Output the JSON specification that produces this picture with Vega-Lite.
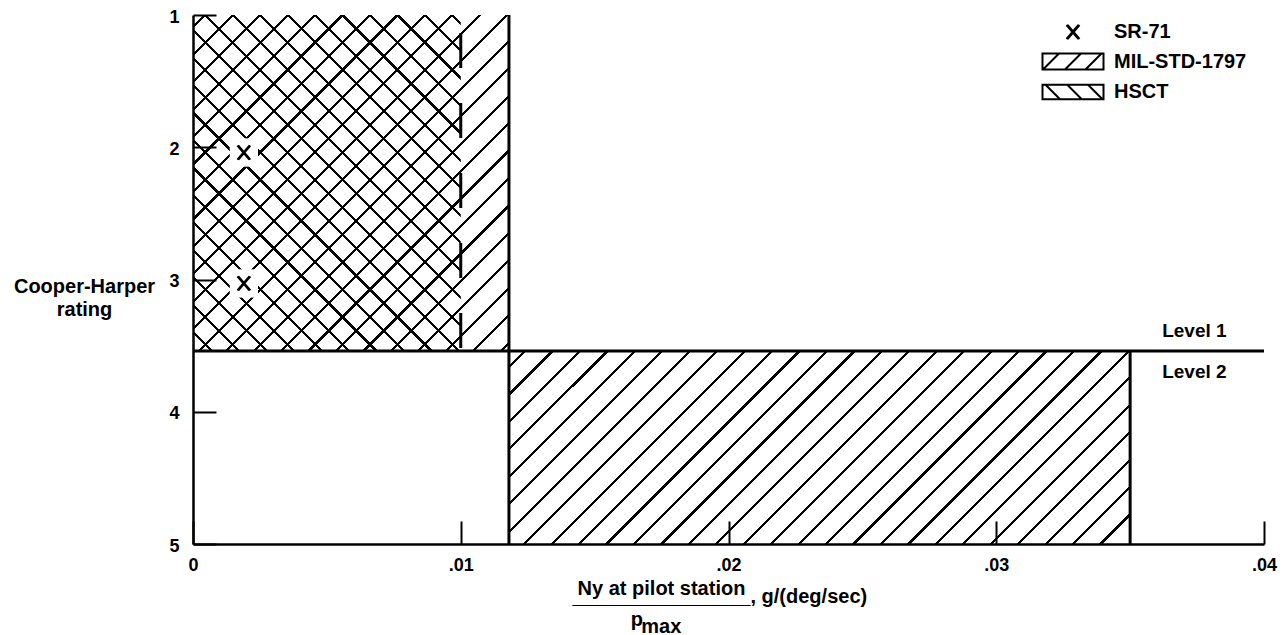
{
 "$schema": "https://vega.github.io/schema/vega-lite/v6.json",
 "width": 1071,
 "height": 529,
 "autosize": {"type": "none"},
 "padding": {"left": 193, "top": 15, "right": 19, "bottom": 91},
 "background": "white",
 "config": {"view": {"stroke": null}, "font": "Liberation Sans"},
 "datasets": {
  "regions": [
   {"region": "MIL-STD-1797 Level 1", "x": 0, "x2": 0.0118, "y": 1, "y2": 3.54},
   {"region": "MIL-STD-1797 Level 2", "x": 0.0118, "x2": 0.035, "y": 3.54, "y2": 5},
   {"region": "HSCT Level 1", "x": 0, "x2": 0.01, "y": 1, "y2": 3.54}
  ],
  "lines": [
   {"x": 0, "x2": 0.04, "y": 3.54, "y2": 3.54},
   {"x": 0.0118, "x2": 0.0118, "y": 1, "y2": 5},
   {"x": 0.035, "x2": 0.035, "y": 3.54, "y2": 5}
  ],
  "dashed": [
   {"x": 0.01, "x2": 0.01, "y": 1, "y2": 3.54}
  ],
  "sr71": [
   {"series": "SR-71", "x": 0.0019, "y": 2.04},
   {"series": "SR-71", "x": 0.0019, "y": 3.03}
  ],
  "levels": [
   {"label": "Level 1", "x": 0.0374, "y": 3.39},
   {"label": "Level 2", "x": 0.0374, "y": 3.70}
  ]
 },
 "layer": [
  {
   "data": {"name": "regions"},
   "transform": [{"filter": "datum.region === 'MIL-STD-1797 Level 1'"}],
   "mark": {"type": "rect", "strokeWidth": 0, "fill": {"gradient": "linear", "x1": 0, "y1": 0, "x2": 0.9684, "y2": 1.0297, "stops": [
    {"offset": 0.01642, "color": "rgba(0,0,0,0)"}, {"offset": 0.01642, "color": "#000"}, {"offset": 0.02133, "color": "#000"}, {"offset": 0.02133, "color": "rgba(0,0,0,0)"},
    {"offset": 0.05853, "color": "rgba(0,0,0,0)"}, {"offset": 0.05853, "color": "#000"}, {"offset": 0.06344, "color": "#000"}, {"offset": 0.06344, "color": "rgba(0,0,0,0)"},
    {"offset": 0.10064, "color": "rgba(0,0,0,0)"}, {"offset": 0.10064, "color": "#000"}, {"offset": 0.10556, "color": "#000"}, {"offset": 0.10556, "color": "rgba(0,0,0,0)"},
    {"offset": 0.14276, "color": "rgba(0,0,0,0)"}, {"offset": 0.14276, "color": "#000"}, {"offset": 0.14767, "color": "#000"}, {"offset": 0.14767, "color": "rgba(0,0,0,0)"},
    {"offset": 0.18487, "color": "rgba(0,0,0,0)"}, {"offset": 0.18487, "color": "#000"}, {"offset": 0.18978, "color": "#000"}, {"offset": 0.18978, "color": "rgba(0,0,0,0)"},
    {"offset": 0.22699, "color": "rgba(0,0,0,0)"}, {"offset": 0.22699, "color": "#000"}, {"offset": 0.23190, "color": "#000"}, {"offset": 0.23190, "color": "rgba(0,0,0,0)"},
    {"offset": 0.26910, "color": "rgba(0,0,0,0)"}, {"offset": 0.26910, "color": "#000"}, {"offset": 0.27401, "color": "#000"}, {"offset": 0.27401, "color": "rgba(0,0,0,0)"},
    {"offset": 0.31122, "color": "rgba(0,0,0,0)"}, {"offset": 0.31122, "color": "#000"}, {"offset": 0.31613, "color": "#000"}, {"offset": 0.31613, "color": "rgba(0,0,0,0)"},
    {"offset": 0.35333, "color": "rgba(0,0,0,0)"}, {"offset": 0.35333, "color": "#000"}, {"offset": 0.35824, "color": "#000"}, {"offset": 0.35824, "color": "rgba(0,0,0,0)"},
    {"offset": 0.39545, "color": "rgba(0,0,0,0)"}, {"offset": 0.39545, "color": "#000"}, {"offset": 0.40036, "color": "#000"}, {"offset": 0.40036, "color": "rgba(0,0,0,0)"},
    {"offset": 0.43756, "color": "rgba(0,0,0,0)"}, {"offset": 0.43756, "color": "#000"}, {"offset": 0.44247, "color": "#000"}, {"offset": 0.44247, "color": "rgba(0,0,0,0)"},
    {"offset": 0.47967, "color": "rgba(0,0,0,0)"}, {"offset": 0.47967, "color": "#000"}, {"offset": 0.48458, "color": "#000"}, {"offset": 0.48458, "color": "rgba(0,0,0,0)"},
    {"offset": 0.52179, "color": "rgba(0,0,0,0)"}, {"offset": 0.52179, "color": "#000"}, {"offset": 0.52670, "color": "#000"}, {"offset": 0.52670, "color": "rgba(0,0,0,0)"},
    {"offset": 0.56390, "color": "rgba(0,0,0,0)"}, {"offset": 0.56390, "color": "#000"}, {"offset": 0.56881, "color": "#000"}, {"offset": 0.56881, "color": "rgba(0,0,0,0)"},
    {"offset": 0.60601, "color": "rgba(0,0,0,0)"}, {"offset": 0.60601, "color": "#000"}, {"offset": 0.61092, "color": "#000"}, {"offset": 0.61092, "color": "rgba(0,0,0,0)"},
    {"offset": 0.64813, "color": "rgba(0,0,0,0)"}, {"offset": 0.64813, "color": "#000"}, {"offset": 0.65304, "color": "#000"}, {"offset": 0.65304, "color": "rgba(0,0,0,0)"},
    {"offset": 0.69024, "color": "rgba(0,0,0,0)"}, {"offset": 0.69024, "color": "#000"}, {"offset": 0.69515, "color": "#000"}, {"offset": 0.69515, "color": "rgba(0,0,0,0)"},
    {"offset": 0.73236, "color": "rgba(0,0,0,0)"}, {"offset": 0.73236, "color": "#000"}, {"offset": 0.73727, "color": "#000"}, {"offset": 0.73727, "color": "rgba(0,0,0,0)"},
    {"offset": 0.77447, "color": "rgba(0,0,0,0)"}, {"offset": 0.77447, "color": "#000"}, {"offset": 0.77938, "color": "#000"}, {"offset": 0.77938, "color": "rgba(0,0,0,0)"},
    {"offset": 0.81659, "color": "rgba(0,0,0,0)"}, {"offset": 0.81659, "color": "#000"}, {"offset": 0.82150, "color": "#000"}, {"offset": 0.82150, "color": "rgba(0,0,0,0)"},
    {"offset": 0.85870, "color": "rgba(0,0,0,0)"}, {"offset": 0.85870, "color": "#000"}, {"offset": 0.86361, "color": "#000"}, {"offset": 0.86361, "color": "rgba(0,0,0,0)"},
    {"offset": 0.90082, "color": "rgba(0,0,0,0)"}, {"offset": 0.90082, "color": "#000"}, {"offset": 0.90573, "color": "#000"}, {"offset": 0.90573, "color": "rgba(0,0,0,0)"},
    {"offset": 0.94293, "color": "rgba(0,0,0,0)"}, {"offset": 0.94293, "color": "#000"}, {"offset": 0.94784, "color": "#000"}, {"offset": 0.94784, "color": "rgba(0,0,0,0)"},
    {"offset": 0.98504, "color": "rgba(0,0,0,0)"}, {"offset": 0.98504, "color": "#000"}, {"offset": 0.98995, "color": "#000"}, {"offset": 0.98995, "color": "rgba(0,0,0,0)"}
   ]}},
   "encoding": {
    "x": {"field": "x", "type": "quantitative", "scale": {"domain": [0, 0.04], "nice": false, "zero": false},
     "axis": {"orient": "bottom", "values": [0, 0.01, 0.02, 0.03, 0.04], "labelExpr": "datum.value == 0 ? '0' : replace(format(datum.value, '.2f'), '0.', '.')",
      "tickSize": -23, "tickWidth": 2, "tickColor": "black", "domainWidth": 2.5, "domainColor": "black", "grid": false,
      "labelFontSize": 18, "labelFontWeight": "bold", "labelColor": "black", "labelPadding": 35, "labelFont": "Liberation Sans", "labelFlush": false, "labelOverlap": false,
      "title": "Ny at pilot station", "titleFont": "Liberation Sans", "titleFontSize": 20, "titleFontWeight": "bold", "titleColor": "black",
      "titleX": 468, "titleY": 44, "titleAlign": "center", "titleBaseline": "middle"}},
    "x2": {"field": "x2"},
    "y": {"field": "y", "type": "quantitative", "scale": {"domain": [1, 5], "reverse": true, "nice": false, "zero": false},
     "axis": {"orient": "left", "values": [1, 2, 3, 4, 5], "format": "d", "tickSize": -23, "tickWidth": 2, "tickColor": "black", "domainWidth": 2.5, "domainColor": "black", "grid": false,
      "labelFontSize": 18, "labelFontWeight": "bold", "labelColor": "black", "labelPadding": 37, "labelFont": "Liberation Sans", "labelFlush": false, "labelOffset": 2,
      "title": ["Cooper-Harper", "rating"], "titleFont": "Liberation Sans", "titleFontSize": 20, "titleFontWeight": "bold", "titleColor": "black",
      "titleAngle": 0, "titleAlign": "center", "titleBaseline": "middle", "titleX": -109, "titleY": 271.5, "titleLineHeight": 23}},
    "y2": {"field": "y2"}
   }
  },
  {
   "data": {"name": "regions"},
   "transform": [{"filter": "datum.region === 'MIL-STD-1797 Level 2'"}],
   "mark": {"type": "rect", "strokeWidth": 0, "fill": {"gradient": "linear", "x1": 0, "y1": 0, "x2": 1.1953, "y2": 0.3716, "stops": [
    {"offset": 0.01793, "color": "rgba(0,0,0,0)"}, {"offset": 0.01793, "color": "#000"}, {"offset": 0.02186, "color": "#000"}, {"offset": 0.02186, "color": "rgba(0,0,0,0)"},
    {"offset": 0.05164, "color": "rgba(0,0,0,0)"}, {"offset": 0.05164, "color": "#000"}, {"offset": 0.05557, "color": "#000"}, {"offset": 0.05557, "color": "rgba(0,0,0,0)"},
    {"offset": 0.08535, "color": "rgba(0,0,0,0)"}, {"offset": 0.08535, "color": "#000"}, {"offset": 0.08928, "color": "#000"}, {"offset": 0.08928, "color": "rgba(0,0,0,0)"},
    {"offset": 0.11906, "color": "rgba(0,0,0,0)"}, {"offset": 0.11906, "color": "#000"}, {"offset": 0.12299, "color": "#000"}, {"offset": 0.12299, "color": "rgba(0,0,0,0)"},
    {"offset": 0.15277, "color": "rgba(0,0,0,0)"}, {"offset": 0.15277, "color": "#000"}, {"offset": 0.15670, "color": "#000"}, {"offset": 0.15670, "color": "rgba(0,0,0,0)"},
    {"offset": 0.18648, "color": "rgba(0,0,0,0)"}, {"offset": 0.18648, "color": "#000"}, {"offset": 0.19041, "color": "#000"}, {"offset": 0.19041, "color": "rgba(0,0,0,0)"},
    {"offset": 0.22019, "color": "rgba(0,0,0,0)"}, {"offset": 0.22019, "color": "#000"}, {"offset": 0.22412, "color": "#000"}, {"offset": 0.22412, "color": "rgba(0,0,0,0)"},
    {"offset": 0.25390, "color": "rgba(0,0,0,0)"}, {"offset": 0.25390, "color": "#000"}, {"offset": 0.25783, "color": "#000"}, {"offset": 0.25783, "color": "rgba(0,0,0,0)"},
    {"offset": 0.28761, "color": "rgba(0,0,0,0)"}, {"offset": 0.28761, "color": "#000"}, {"offset": 0.29154, "color": "#000"}, {"offset": 0.29154, "color": "rgba(0,0,0,0)"},
    {"offset": 0.32132, "color": "rgba(0,0,0,0)"}, {"offset": 0.32132, "color": "#000"}, {"offset": 0.32525, "color": "#000"}, {"offset": 0.32525, "color": "rgba(0,0,0,0)"},
    {"offset": 0.35503, "color": "rgba(0,0,0,0)"}, {"offset": 0.35503, "color": "#000"}, {"offset": 0.35896, "color": "#000"}, {"offset": 0.35896, "color": "rgba(0,0,0,0)"},
    {"offset": 0.38874, "color": "rgba(0,0,0,0)"}, {"offset": 0.38874, "color": "#000"}, {"offset": 0.39267, "color": "#000"}, {"offset": 0.39267, "color": "rgba(0,0,0,0)"},
    {"offset": 0.42245, "color": "rgba(0,0,0,0)"}, {"offset": 0.42245, "color": "#000"}, {"offset": 0.42638, "color": "#000"}, {"offset": 0.42638, "color": "rgba(0,0,0,0)"},
    {"offset": 0.45616, "color": "rgba(0,0,0,0)"}, {"offset": 0.45616, "color": "#000"}, {"offset": 0.46009, "color": "#000"}, {"offset": 0.46009, "color": "rgba(0,0,0,0)"},
    {"offset": 0.48987, "color": "rgba(0,0,0,0)"}, {"offset": 0.48987, "color": "#000"}, {"offset": 0.49380, "color": "#000"}, {"offset": 0.49380, "color": "rgba(0,0,0,0)"},
    {"offset": 0.52358, "color": "rgba(0,0,0,0)"}, {"offset": 0.52358, "color": "#000"}, {"offset": 0.52751, "color": "#000"}, {"offset": 0.52751, "color": "rgba(0,0,0,0)"},
    {"offset": 0.55729, "color": "rgba(0,0,0,0)"}, {"offset": 0.55729, "color": "#000"}, {"offset": 0.56122, "color": "#000"}, {"offset": 0.56122, "color": "rgba(0,0,0,0)"},
    {"offset": 0.59100, "color": "rgba(0,0,0,0)"}, {"offset": 0.59100, "color": "#000"}, {"offset": 0.59493, "color": "#000"}, {"offset": 0.59493, "color": "rgba(0,0,0,0)"},
    {"offset": 0.62471, "color": "rgba(0,0,0,0)"}, {"offset": 0.62471, "color": "#000"}, {"offset": 0.62864, "color": "#000"}, {"offset": 0.62864, "color": "rgba(0,0,0,0)"},
    {"offset": 0.65842, "color": "rgba(0,0,0,0)"}, {"offset": 0.65842, "color": "#000"}, {"offset": 0.66235, "color": "#000"}, {"offset": 0.66235, "color": "rgba(0,0,0,0)"},
    {"offset": 0.69213, "color": "rgba(0,0,0,0)"}, {"offset": 0.69213, "color": "#000"}, {"offset": 0.69606, "color": "#000"}, {"offset": 0.69606, "color": "rgba(0,0,0,0)"},
    {"offset": 0.72584, "color": "rgba(0,0,0,0)"}, {"offset": 0.72584, "color": "#000"}, {"offset": 0.72977, "color": "#000"}, {"offset": 0.72977, "color": "rgba(0,0,0,0)"},
    {"offset": 0.75955, "color": "rgba(0,0,0,0)"}, {"offset": 0.75955, "color": "#000"}, {"offset": 0.76348, "color": "#000"}, {"offset": 0.76348, "color": "rgba(0,0,0,0)"},
    {"offset": 0.79326, "color": "rgba(0,0,0,0)"}, {"offset": 0.79326, "color": "#000"}, {"offset": 0.79719, "color": "#000"}, {"offset": 0.79719, "color": "rgba(0,0,0,0)"},
    {"offset": 0.82697, "color": "rgba(0,0,0,0)"}, {"offset": 0.82697, "color": "#000"}, {"offset": 0.83090, "color": "#000"}, {"offset": 0.83090, "color": "rgba(0,0,0,0)"},
    {"offset": 0.86068, "color": "rgba(0,0,0,0)"}, {"offset": 0.86068, "color": "#000"}, {"offset": 0.86461, "color": "#000"}, {"offset": 0.86461, "color": "rgba(0,0,0,0)"},
    {"offset": 0.89439, "color": "rgba(0,0,0,0)"}, {"offset": 0.89439, "color": "#000"}, {"offset": 0.89832, "color": "#000"}, {"offset": 0.89832, "color": "rgba(0,0,0,0)"},
    {"offset": 0.92810, "color": "rgba(0,0,0,0)"}, {"offset": 0.92810, "color": "#000"}, {"offset": 0.93203, "color": "#000"}, {"offset": 0.93203, "color": "rgba(0,0,0,0)"},
    {"offset": 0.96181, "color": "rgba(0,0,0,0)"}, {"offset": 0.96181, "color": "#000"}, {"offset": 0.96574, "color": "#000"}, {"offset": 0.96574, "color": "rgba(0,0,0,0)"}
   ]}},
   "encoding": {
    "x": {"field": "x", "type": "quantitative",
     "axis": {"orient": "bottom", "domain": false, "ticks": false, "labels": false, "grid": false,
      "title": "________________, g/(deg/sec)", "titleFont": "Liberation Sans", "titleFontSize": 20, "titleFontWeight": "bold", "titleColor": "black",
      "titleX": 379, "titleY": 58, "titleAlign": "left", "titleBaseline": "alphabetic"}},
    "x2": {"field": "x2"},
    "y": {"field": "y", "type": "quantitative"},
    "y2": {"field": "y2"}
   }
  },
  {
   "data": {"name": "regions"},
   "transform": [{"filter": "datum.region === 'HSCT Level 1'"}],
   "mark": {"type": "rect", "strokeWidth": 0, "fill": {"gradient": "linear", "x1": 0, "y1": 1, "x2": 0.8759, "y2": -0.0989, "stops": [
    {"offset": 0.02849, "color": "rgba(0,0,0,0)"}, {"offset": 0.02849, "color": "#000"}, {"offset": 0.03380, "color": "#000"}, {"offset": 0.03380, "color": "rgba(0,0,0,0)"},
    {"offset": 0.07397, "color": "rgba(0,0,0,0)"}, {"offset": 0.07397, "color": "#000"}, {"offset": 0.07927, "color": "#000"}, {"offset": 0.07927, "color": "rgba(0,0,0,0)"},
    {"offset": 0.11944, "color": "rgba(0,0,0,0)"}, {"offset": 0.11944, "color": "#000"}, {"offset": 0.12474, "color": "#000"}, {"offset": 0.12474, "color": "rgba(0,0,0,0)"},
    {"offset": 0.16491, "color": "rgba(0,0,0,0)"}, {"offset": 0.16491, "color": "#000"}, {"offset": 0.17021, "color": "#000"}, {"offset": 0.17021, "color": "rgba(0,0,0,0)"},
    {"offset": 0.21038, "color": "rgba(0,0,0,0)"}, {"offset": 0.21038, "color": "#000"}, {"offset": 0.21569, "color": "#000"}, {"offset": 0.21569, "color": "rgba(0,0,0,0)"},
    {"offset": 0.25586, "color": "rgba(0,0,0,0)"}, {"offset": 0.25586, "color": "#000"}, {"offset": 0.26116, "color": "#000"}, {"offset": 0.26116, "color": "rgba(0,0,0,0)"},
    {"offset": 0.30133, "color": "rgba(0,0,0,0)"}, {"offset": 0.30133, "color": "#000"}, {"offset": 0.30663, "color": "#000"}, {"offset": 0.30663, "color": "rgba(0,0,0,0)"},
    {"offset": 0.34680, "color": "rgba(0,0,0,0)"}, {"offset": 0.34680, "color": "#000"}, {"offset": 0.35210, "color": "#000"}, {"offset": 0.35210, "color": "rgba(0,0,0,0)"},
    {"offset": 0.39228, "color": "rgba(0,0,0,0)"}, {"offset": 0.39228, "color": "#000"}, {"offset": 0.39758, "color": "#000"}, {"offset": 0.39758, "color": "rgba(0,0,0,0)"},
    {"offset": 0.43775, "color": "rgba(0,0,0,0)"}, {"offset": 0.43775, "color": "#000"}, {"offset": 0.44305, "color": "#000"}, {"offset": 0.44305, "color": "rgba(0,0,0,0)"},
    {"offset": 0.48322, "color": "rgba(0,0,0,0)"}, {"offset": 0.48322, "color": "#000"}, {"offset": 0.48852, "color": "#000"}, {"offset": 0.48852, "color": "rgba(0,0,0,0)"},
    {"offset": 0.52869, "color": "rgba(0,0,0,0)"}, {"offset": 0.52869, "color": "#000"}, {"offset": 0.53400, "color": "#000"}, {"offset": 0.53400, "color": "rgba(0,0,0,0)"},
    {"offset": 0.57417, "color": "rgba(0,0,0,0)"}, {"offset": 0.57417, "color": "#000"}, {"offset": 0.57947, "color": "#000"}, {"offset": 0.57947, "color": "rgba(0,0,0,0)"},
    {"offset": 0.61964, "color": "rgba(0,0,0,0)"}, {"offset": 0.61964, "color": "#000"}, {"offset": 0.62494, "color": "#000"}, {"offset": 0.62494, "color": "rgba(0,0,0,0)"},
    {"offset": 0.66511, "color": "rgba(0,0,0,0)"}, {"offset": 0.66511, "color": "#000"}, {"offset": 0.67041, "color": "#000"}, {"offset": 0.67041, "color": "rgba(0,0,0,0)"},
    {"offset": 0.71059, "color": "rgba(0,0,0,0)"}, {"offset": 0.71059, "color": "#000"}, {"offset": 0.71589, "color": "#000"}, {"offset": 0.71589, "color": "rgba(0,0,0,0)"},
    {"offset": 0.75606, "color": "rgba(0,0,0,0)"}, {"offset": 0.75606, "color": "#000"}, {"offset": 0.76136, "color": "#000"}, {"offset": 0.76136, "color": "rgba(0,0,0,0)"},
    {"offset": 0.80153, "color": "rgba(0,0,0,0)"}, {"offset": 0.80153, "color": "#000"}, {"offset": 0.80683, "color": "#000"}, {"offset": 0.80683, "color": "rgba(0,0,0,0)"},
    {"offset": 0.84700, "color": "rgba(0,0,0,0)"}, {"offset": 0.84700, "color": "#000"}, {"offset": 0.85231, "color": "#000"}, {"offset": 0.85231, "color": "rgba(0,0,0,0)"},
    {"offset": 0.89248, "color": "rgba(0,0,0,0)"}, {"offset": 0.89248, "color": "#000"}, {"offset": 0.89778, "color": "#000"}, {"offset": 0.89778, "color": "rgba(0,0,0,0)"},
    {"offset": 0.93795, "color": "rgba(0,0,0,0)"}, {"offset": 0.93795, "color": "#000"}, {"offset": 0.94325, "color": "#000"}, {"offset": 0.94325, "color": "rgba(0,0,0,0)"},
    {"offset": 0.98342, "color": "rgba(0,0,0,0)"}, {"offset": 0.98342, "color": "#000"}, {"offset": 0.98872, "color": "#000"}, {"offset": 0.98872, "color": "rgba(0,0,0,0)"}
   ]}},
   "encoding": {
    "x": {"field": "x", "type": "quantitative",
     "axis": {"orient": "bottom", "domain": false, "ticks": false, "labels": false, "grid": false,
      "title": "p", "titleFont": "Liberation Sans", "titleFontSize": 20, "titleFontWeight": "bold", "titleColor": "black",
      "titleX": 437.3, "titleY": 81.5, "titleAlign": "left", "titleBaseline": "alphabetic"}},
    "x2": {"field": "x2"},
    "y": {"field": "y", "type": "quantitative"},
    "y2": {"field": "y2"}
   }
  },
  {
   "data": {"name": "lines"},
   "mark": {"type": "rule", "strokeWidth": 3, "color": "black"},
   "encoding": {
    "x": {"field": "x", "type": "quantitative",
     "axis": {"orient": "bottom", "domain": false, "ticks": false, "labels": false, "grid": false,
      "title": "max", "titleFont": "Liberation Sans", "titleFontSize": 20, "titleFontWeight": "bold", "titleColor": "black",
      "titleX": 447.8, "titleY": 88, "titleAlign": "left", "titleBaseline": "alphabetic"}},
    "x2": {"field": "x2"},
    "y": {"field": "y", "type": "quantitative"},
    "y2": {"field": "y2"}
   }
  },
  {
   "data": {"name": "dashed"},
   "mark": {"type": "rule", "strokeWidth": 3, "color": "black", "strokeDash": [35, 35], "strokeDashOffset": 52},
   "encoding": {
    "x": {"field": "x", "type": "quantitative", "axis": null},
    "x2": {"field": "x2"},
    "y": {"field": "y", "type": "quantitative"},
    "y2": {"field": "y2"}
   }
  },
  {
   "data": {"name": "sr71"},
   "mark": {"type": "point", "shape": "square", "filled": true, "color": "white", "size": 800, "opacity": 1, "strokeWidth": 0},
   "encoding": {
    "x": {"field": "x", "type": "quantitative", "axis": null},
    "y": {"field": "y", "type": "quantitative"}
   }
  },
  {
   "data": {"name": "sr71"},
   "mark": {"type": "point", "filled": false, "size": 100, "strokeWidth": 2, "color": "black", "opacity": 1},
   "encoding": {
    "x": {"field": "x", "type": "quantitative", "axis": null},
    "y": {"field": "y", "type": "quantitative"},
    "shape": {"field": "series", "type": "nominal",
     "scale": {"domain": ["SR-71", "MIL-STD-1797", "HSCT"],
      "range": ["M-1.3,-1.4L1.1,1.4M-1.3,1.4L1.1,-1.4M-1.1,-1.4L1.3,1.4M-1.1,1.4L1.3,-1.4",
       "M-6.1,-1.6H6.1V1.6H-6.1Z M-6,1.6L-2.8,-1.6 M-1.6,1.6L1.6,-1.6 M2.5,1.6L5.7,-1.6",
       "M-6.1,-1.45H6.1V1.45H-6.1Z M-5.5,-1.45L-2.6,1.45 M-1.15,-1.45L1.75,1.45 M3,-1.45L5.9,1.45"]},
     "legend": {"title": null, "orient": "none", "legendX": 870, "legendY": 7, "symbolSize": 100, "symbolOpacity": 1,
      "symbolStrokeColor": "black", "symbolFillColor": "transparent", "symbolStrokeWidth": 2,
      "labelFontSize": 20, "labelFontWeight": "bold", "labelFont": "Liberation Sans", "labelColor": "black",
      "labelOffset": 31, "rowPadding": 6.5, "padding": 0}}
   }
  },
  {
   "data": {"name": "levels"},
   "mark": {"type": "text", "fontSize": 19, "fontWeight": "bold", "font": "Liberation Sans", "align": "center", "baseline": "middle", "color": "black"},
   "encoding": {
    "x": {"field": "x", "type": "quantitative", "axis": null},
    "y": {"field": "y", "type": "quantitative"},
    "text": {"field": "label"}
   }
  }
 ],
 "resolve": {"axis": {"x": "independent"}}
}
